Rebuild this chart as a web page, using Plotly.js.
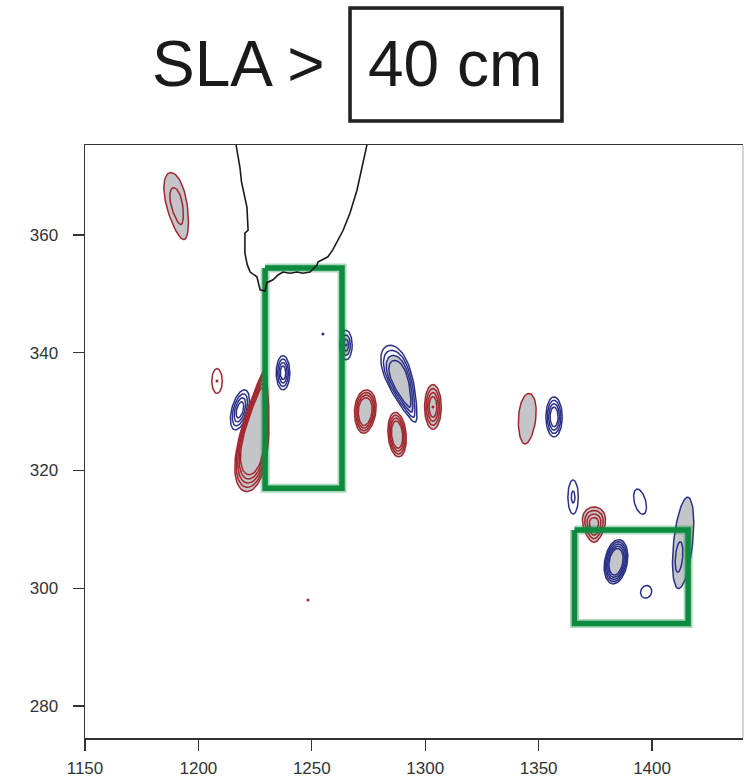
<!DOCTYPE html>
<html>
<head>
<meta charset="utf-8">
<script src="https://cdn.plot.ly/plotly-3.0.1.min.js"></script>
<style>html,body{margin:0;padding:0;background:#fff;}#chart{width:755px;height:781px;}</style>
</head>
<body>
<div id="chart"></div>
<script>
// ---------- data ----------
const xTicks = [1150, 1200, 1250, 1300, 1350, 1400];
const yTicks = [280, 300, 320, 340, 360];
const xRange = [1150, 1440.1];
const yRange = [274.57, 375.28];

// anomaly blobs: centre, half extents (data units), tilt (deg, + = top leans right),
// egg asymmetry, number of contour rings, ring spacing, kind, filled ring (-1 = none)
const blobX    = [1190.6, 1208.2, 1218.3, 1225.0, 1237.3, 1265.1, 1289.5, 1273.5, 1287.6, 1303.4, 1344.9, 1356.8, 1365.2, 1374.4, 1384.1, 1394.7, 1397.4, 1413.7, 1411.9];
const blobY    = [364.9, 335.2, 330.3, 326.7, 336.6, 341.3, 334.7, 330.0, 326.1, 330.8, 328.8, 329.1, 315.5, 310.8, 304.5, 314.7, 299.4, 307.7, 305.3];
const blobRx   = [4.5, 2.3, 3.6, 6.1, 3.0, 2.7, 5.4, 4.7, 4.0, 3.7, 3.8, 3.6, 2.3, 4.9, 5.0, 2.5, 2.4, 4.2, 1.6];
const blobRy   = [5.8, 2.1, 3.5, 10.4, 2.9, 2.5, 6.9, 3.7, 3.8, 3.8, 4.3, 3.4, 2.9, 3.0, 3.8, 2.2, 1.1, 7.8, 2.6];
const blobTilt = [-12, 0, 15, 9, 0, 0, -20, 5, -5, 0, 5, 0, 0, 0, 10, -15, 20, 6, 5];
const blobEgg  = [0.2, 0, 0, -0.55, 0, 0, 0.45, 0.1, 0, 0, 0.1, 0, 0, 0.3, 0, 0, 0, 0, 0];
const blobRings= [2, 1, 4, 5, 4, 3, 4, 4, 4, 4, 1, 4, 2, 4, 5, 1, 1, 1, 1];
const blobStep = [0.45, 0, 0.2, 0.07, 0.2, 0.3, 0.13, 0.12, 0.13, 0.18, 0, 0.17, 0.65, 0.2, 0.1, 0, 0, 0, 0];
const blobKind = ['warm','warm','cold','warm','cold','cold','cold','warm','warm','warm','warm','cold','cold','warm','cold','cold','cold','cold','cold'];
const blobFill = [0, -1, -1, 0, -1, 1, 2, 0, 0, 0, 0, -1, -1, 0, 0, -1, -1, 0, -1];

// single-point peaks
const dotX = [1208.2, 1303.4, 1254.9, 1248.3, 1265.1];
const dotY = [335.2, 330.8, 343.2, 298.0, 341.3];
const dotKind = ['warm', 'warm', 'cold', 'warm', 'cold'];

// coastline
const coastX = [1216.6, 1218.3, 1219.0, 1221.4, 1221.9, 1220.5, 1220.5, 1221.5, 1222.8, 1225.8, 1227.2, 1229.4, 1230.2, 1232.9, 1235.1, 1237.3, 1240.4, 1243.5, 1246.1, 1249.2, 1252.3, 1252.7, 1257.1, 1259.3, 1263.8, 1266.8, 1269.9, 1272.6, 1274.3];
const coastY = [375.3, 371.5, 369.0, 364.7, 360.8, 360.3, 356.9, 355.0, 353.7, 352.9, 350.7, 350.5, 351.9, 352.4, 353.2, 353.7, 353.5, 353.7, 353.5, 353.7, 354.9, 355.4, 356.3, 357.5, 360.8, 363.7, 367.6, 372.7, 375.3];

// study boxes
const boxX0 = [1229.4, 1365.8];
const boxX1 = [1263.3, 1415.9];
const boxY0 = [317.0, 294.0];
const boxY1 = [354.4, 309.9];

// ---------- styling ----------
const W = 755, H = 781;
const M = {l: 85, r: 12, t: 145, b: 43};
const plotW = W - M.l - M.r, plotH = H - M.t - M.b;
const pxX = plotW / (xRange[1] - xRange[0]);
const pxY = plotH / (yRange[1] - yRange[0]);
const lineCol = {warm: '#a3272d', cold: '#2b3088'};
const greyFill = '#c4c5c8';
const green = '#0d8c40';

function ringPath(i, s) {
  const hw = blobRx[i] * pxX * s, hh = blobRy[i] * pxY * s;
  const th = blobTilt[i] * Math.PI / 180, k = blobEgg[i];
  const xs = [], ys = [];
  for (let j = 0; j <= 72; j++) {
    const t = j / 72 * 2 * Math.PI;
    const u = hw * Math.cos(t) * (1 + k * Math.sin(t));
    const v = hh * Math.sin(t);
    const dx = u * Math.cos(th) + v * Math.sin(th);
    const dy = -u * Math.sin(th) + v * Math.cos(th);
    xs.push(blobX[i] + dx / pxX);
    ys.push(blobY[i] + dy / pxY);
  }
  return {xs, ys};
}

const traces = [];
for (let i = 0; i < blobX.length; i++) {
  if (blobFill[i] >= 0) {
    const p = ringPath(i, 1 - blobFill[i] * blobStep[i]);
    traces.push({x: p.xs, y: p.ys, mode: 'lines', fill: 'toself', fillcolor: greyFill,
      line: {width: 0, color: greyFill}, hoverinfo: 'skip', showlegend: false});
  }
  for (let r = 0; r < blobRings[i]; r++) {
    const p = ringPath(i, 1 - r * blobStep[i]);
    traces.push({x: p.xs, y: p.ys, mode: 'lines', line: {width: 1.5, color: lineCol[blobKind[i]]},
      hoverinfo: 'skip', showlegend: false});
  }
}
traces.push({x: dotX, y: dotY, mode: 'markers',
  marker: {size: 3, color: dotKind.map(k => lineCol[k])}, hoverinfo: 'skip', showlegend: false});

for (let b = 0; b < boxX0.length; b++) {
  const bx = [boxX0[b], boxX1[b], boxX1[b], boxX0[b], boxX0[b]];
  const by = [boxY1[b], boxY1[b], boxY0[b], boxY0[b], boxY1[b]];
  traces.push({x: bx, y: by, mode: 'lines', line: {width: 9, color: 'rgba(13,140,64,0.35)'},
    hoverinfo: 'skip', showlegend: false});
  traces.push({x: bx, y: by, mode: 'lines', line: {width: 5.5, color: green},
    hoverinfo: 'skip', showlegend: false});
}

traces.push({x: coastX, y: coastY, mode: 'lines', line: {width: 1.6, color: '#1a1a1a'},
  hoverinfo: 'skip', showlegend: false});

const px2paperX = px => (px - M.l) / plotW;
const px2paperY = py => (H - M.b - py) / plotH;

const axisFont = {family: 'Liberation Sans, Arial, sans-serif', size: 17, color: '#333'};
const layout = {
  width: W, height: H,
  margin: M,
  paper_bgcolor: '#fff', plot_bgcolor: '#fff',
  showlegend: false,
  xaxis: {range: xRange, tickvals: xTicks, ticktext: xTicks.map(String), ticks: 'outside', ticklen: 11,
    tickwidth: 1.2, tickcolor: '#333', showline: true, linecolor: '#333', linewidth: 1.5, mirror: true,
    showgrid: false, zeroline: false, tickfont: axisFont, ticklabelstandoff: 3},
  yaxis: {range: yRange, tickvals: yTicks, ticktext: yTicks.map(String), ticks: 'outside', ticklen: 11,
    tickwidth: 1.2, tickcolor: '#333', showline: true, linecolor: '#333', linewidth: 1.5,
    showgrid: false, zeroline: false, tickfont: axisFont, ticklabelstandoff: 11},
  shapes: [
    {type: 'line', xref: 'paper', yref: 'paper', x0: 1, x1: 1, y0: 0, y1: 1, line: {color: '#c8c8c8', width: 1.5}},
    {type: 'rect', xref: 'paper', yref: 'paper', x0: px2paperX(350), x1: px2paperX(562), y0: px2paperY(121), y1: px2paperY(8),
      line: {color: '#222', width: 3.5}},
    {type: 'rect', xref: 'paper', yref: 'paper', x0: px2paperX(351.5), x1: px2paperX(560.5), y0: px2paperY(119.5), y1: px2paperY(9.5),
      line: {color: 'rgba(60,60,60,0.5)', width: 1}}
  ],
  annotations: [
    {text: 'SLA >', xref: 'paper', yref: 'paper', x: px2paperX(327), y: px2paperY(64), xanchor: 'right', yanchor: 'middle',
      showarrow: false, font: {family: 'Liberation Sans, Arial, sans-serif', size: 64, color: '#1a1a1a'}},
    {text: '40 cm', xref: 'paper', yref: 'paper', x: px2paperX(455), y: px2paperY(64), xanchor: 'center', yanchor: 'middle',
      showarrow: false, font: {family: 'Liberation Sans, Arial, sans-serif', size: 64, color: '#1a1a1a'}}
  ]
};

Plotly.newPlot('chart', traces, layout, {displayModeBar: false, staticPlot: true});
</script>
</body>
</html>
